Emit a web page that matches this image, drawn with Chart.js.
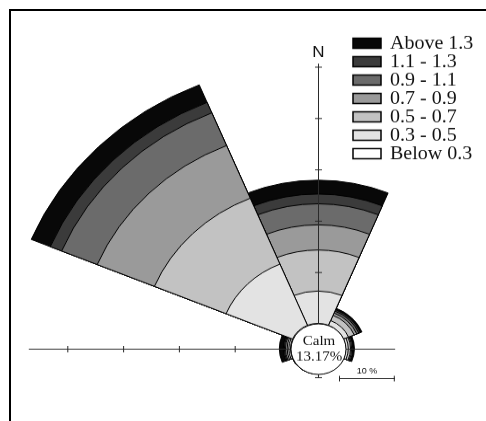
<!DOCTYPE html>
<html>
<head>
<meta charset="utf-8">
<script src="https://cdn.jsdelivr.net/npm/chart.js@4/dist/chart.umd.min.js"></script>
<style>
  body { margin: 0; background: #fff; overflow: hidden; width: 486px; height: 421px; }
  #frame {
    position: absolute; left: 9px; top: 9px; width: 600px; height: 600px;
    border-left: 2px solid #000; border-top: 2px solid #000;
  }
  #wrap {
    position: absolute; left: 0; top: 0; width: 486px; height: 458px;
    transform: scaleY(0.92); transform-origin: 0 0;
  }
</style>
</head>
<body>
<div id="frame"></div>
<div id="wrap"><canvas id="rose"></canvas></div>
<script>
// wind directions (8 sectors, clockwise from north)
const directions = ['N', 'NE', 'E', 'SE', 'S', 'SW', 'W', 'NW'];

// frequency (%) per speed class, per direction
const below03 = [0, 0, 0, 0, 0, 0, 0, 0];
const s03to05 = [6.3, 1.0, 0.5, 0, 0, 0, 0.3, 12.9];
const s05to07 = [8.0, 1.1, 0.4, 0, 0, 0, 0.3, 13.9];
const s07to09 = [4.9, 0.5, 0.2, 0, 0, 0, 0.3, 11.1];
const s09to11 = [4.1, 0.4, 0.2, 0, 0, 0, 0.2, 6.9];
const s11to13 = [1.9, 0.3, 0.1, 0, 0, 0, 0.2, 2.2];
const above13 = [2.7, 0.3, 0.2, 0, 0, 0, 0.7, 3.7];

const classLabels = ['Below 0.3', '0.3 - 0.5', '0.5 - 0.7', '0.7 - 0.9', '0.9 - 1.1', '1.1 - 1.3', 'Above 1.3'];
const classColors = ['#ffffff', '#e3e3e3', '#c2c2c2', '#9a9a9a', '#6b6b6b', '#3b3b3b', '#080808'];
const calmPct = 13.17;

// axis extents and ticks, in %
const axisNorth = 50.6, axisWest = 46.9, axisEast = 8.9, axisSouth = 0.8;
const northTicks = [10, 20, 30, 40, 50];
const westTicks = [10, 20, 30, 40];
const scaleBarPct = 10;

// calm circle radius and pixels per % (horizontal)
const calmRadius = 27.5;
const pxPerPct = 5.58;
const drawRadius = 78;
const rMin = -calmRadius / pxPerPct;
const rMax = rMin + drawRadius / pxPerPct;

const classes = [below03, s03to05, s05to07, s07to09, s09to11, s11to13, above13];

// cumulative totals so each ring sits on top of the previous one
const cumulative = [];
classes.forEach((vals, i) => {
  cumulative.push(vals.map((v, j) => (i ? cumulative[i - 1][j] : 0) + v));
});

const datasets = cumulative.map((vals, i) => ({
  label: classLabels[i],
  data: vals,
  backgroundColor: classColors[i],
  borderColor: '#000',
  borderWidth: 1,
  clip: false
}));

const roseExtras = {
  id: 'roseExtras',
  afterDatasetsDraw(chart) {
    const r = chart.scales.r;
    const ctx = chart.ctx;
    const cx = r.xCenter, cy = r.yCenter;
    const d = v => r.getDistanceFromCenterForValue(v);

    ctx.save();
    ctx.strokeStyle = '#2a2a2a';
    ctx.lineWidth = 1;

    // axes
    ctx.beginPath();
    ctx.moveTo(cx - d(axisWest), cy + 0.5);
    ctx.lineTo(cx + d(axisEast), cy + 0.5);
    ctx.moveTo(cx + 0.5, cy - d(axisNorth));
    ctx.lineTo(cx + 0.5, cy + d(axisSouth));
    westTicks.forEach(t => {
      ctx.moveTo(cx - d(t) + 0.5, cy - 3);
      ctx.lineTo(cx - d(t) + 0.5, cy + 4);
    });
    northTicks.forEach(t => {
      ctx.moveTo(cx - 3, cy - d(t) + 0.5);
      ctx.lineTo(cx + 4, cy - d(t) + 0.5);
    });
    ctx.moveTo(cx - 3, cy + d(axisSouth) - 0.5);
    ctx.lineTo(cx + 4, cy + d(axisSouth) - 0.5);
    ctx.stroke();

    // calm circle
    ctx.beginPath();
    ctx.arc(cx + 0.5, cy + 0.5, d(0), 0, Math.PI * 2);
    ctx.fillStyle = '#fff';
    ctx.fill();
    ctx.strokeStyle = '#000';
    ctx.stroke();

    ctx.fillStyle = '#111';
    ctx.textAlign = 'center';
    ctx.textBaseline = 'middle';
    ctx.font = '15px "Liberation Serif"';
    ctx.fillText('Calm', cx + 1, cy - 8);
    ctx.fillText(calmPct.toFixed(2) + '%', cx + 1, cy + 9);

    // north label
    ctx.font = '17px "Liberation Sans"';
    ctx.fillText('N', cx + 0.5, cy - d(axisNorth) - 12);

    // scale bar
    const barLen = d(scaleBarPct) - d(0);
    const bx = 339, by = 411.5;
    ctx.beginPath();
    ctx.moveTo(bx, by);
    ctx.lineTo(bx + barLen, by);
    ctx.moveTo(bx + 0.5, by - 3);
    ctx.lineTo(bx + 0.5, by + 3);
    ctx.moveTo(bx + barLen - 0.5, by - 3);
    ctx.lineTo(bx + barLen - 0.5, by + 3);
    ctx.strokeStyle = '#222';
    ctx.stroke();
    ctx.font = '9px "Liberation Sans"';
    ctx.textBaseline = 'bottom';
    ctx.fillText(scaleBarPct + ' %', bx + barLen / 2, by - 3);

    // legend, highest class first
    ctx.textAlign = 'left';
    ctx.textBaseline = 'middle';
    ctx.font = '20px "Liberation Serif"';
    ctx.lineWidth = 1.5;
    for (let i = 0; i < classLabels.length; i++) {
      const k = classLabels.length - 1 - i;
      const y = 47 + i * 20;
      ctx.fillStyle = classColors[k];
      ctx.fillRect(353, y - 5.5, 28, 11);
      ctx.strokeStyle = '#000';
      ctx.strokeRect(353, y - 5.5, 28, 11);
      ctx.fillStyle = '#111';
      ctx.fillText(classLabels[k], 390, y + 1);
    }
    ctx.restore();
  }
};

new Chart(document.getElementById('rose'), {
  type: 'polarArea',
  data: { labels: directions, datasets },
  options: {
    responsive: true,
    maintainAspectRatio: false,
    animation: false,
    layout: { padding: { left: 240, right: 90, top: 301, bottom: 1 } },
    scales: {
      r: {
        min: rMin,
        max: rMax,
        startAngle: -22.5,
        grid: { display: false },
        angleLines: { display: false },
        ticks: { display: false },
        pointLabels: { display: false }
      }
    },
    plugins: {
      legend: { display: false },
      tooltip: { enabled: false }
    }
  },
  plugins: [roseExtras]
});
</script>
</body>
</html>
